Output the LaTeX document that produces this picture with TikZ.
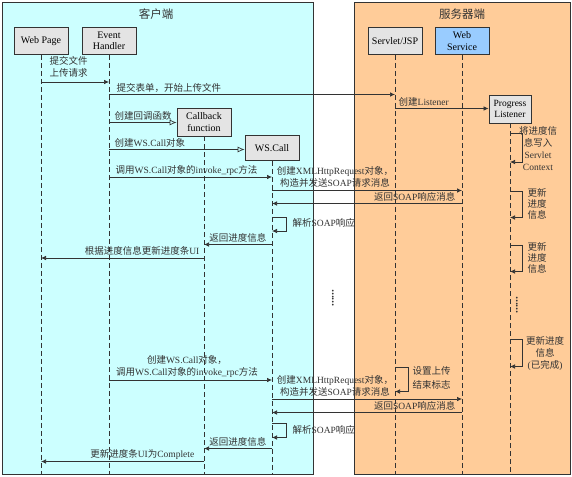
\documentclass[tikz,border=0pt]{standalone}
\usepackage{fontspec}
\setmainfont{Liberation Serif}
\newfontfamily\cjk{Noto Sans CJK SC}
\usetikzlibrary{arrows.meta}
\newcommand\zh[1]{{\cjk #1}}
\definecolor{clientbg}{HTML}{CCFFFF}
\definecolor{serverbg}{HTML}{FFCC99}
\definecolor{boxgray}{HTML}{E4E4E4}
\definecolor{wsblue}{HTML}{99CCFF}
\definecolor{ink}{HTML}{333333}
\begin{document}
\begin{tikzpicture}[x=1pt,y=-1pt,
 panel/.style={draw=ink, line width=0.8pt},
 obj/.style={draw=ink, fill=boxgray, line width=0.9pt, minimum width=54pt, minimum height=27pt, align=center, inner sep=1pt, font=\fontsize{10}{11.5}\selectfont},
 life/.style={draw=ink, line width=0.7pt, dash pattern=on 5pt off 3pt},
 msg/.style={draw=ink, line width=0.7pt, -{Latex[length=5pt,width=4.5pt]}},
 crt/.style={draw=ink, line width=0.7pt, -{Latex[open,length=7pt,width=6pt]}},
 lbl/.style={inner sep=0.5pt, text=ink, font=\fontsize{9.5}{12}\selectfont, align=center},
 ttl/.style={font=\fontsize{11.5}{13}\cjk, text=ink},
 dots/.style={inner sep=0pt, text=ink, font=\fontsize{11}{11}\bfseries, rotate=90},
]
\useasboundingbox (0,0) rectangle (572,476);
\fill[white] (0,0) rectangle (572,476);
\draw[panel, fill=clientbg] (2,2) rectangle (313,474);
\draw[panel, fill=serverbg] (354,2) rectangle (570,474);

\node[ttl] (tc) at (156,14) {客户端};
\node[ttl] (ts) at (462,14) {服务器端};

\node[obj] (wp) at (41,41) {Web Page};
\node[obj] (eh) at (109,41) {Event\\Handler};
\node[obj] (sv) at (395,41) {Servlet/JSP};
\node[obj, fill=wsblue] (ws) at (462,41) {Web\\Service};
\node[obj, minimum height=28pt] (cb) at (204,122) {Callback\\function};
\node[obj, minimum height=25pt] (wc) at (272,148) {WS.Call};
\node[obj, minimum width=42pt, minimum height=28pt, font=\fontsize{9.5}{11}\selectfont] (pl) at (510,109) {Progress\\Listener};

\foreach \n in {wp,eh,sv,ws,cb,wc,pl} \draw[life] (\n.south) -- (\n.south |- 0,474);

% 1
\draw[msg] (wp |- 0,82) -- (eh |- 0,82);
\node[lbl, anchor=west, align=left] (l1) at (49,67) {\zh{提交文件}\\\zh{上传请求}};
% 2
\draw[msg] (eh |- 0,94.5) -- (sv |- 0,94.5);
\node[lbl, anchor=west] (l2) at (116,88) {\zh{提交表单，开始上传文件}};
% 3
\draw[msg] (sv |- 0,108.5) -- (pl.west |- 0,108.5);
\node[lbl, anchor=west] (l3) at (398,102) {\zh{创建}Listener};
% 4
\draw[crt] (eh |- 0,122.5) -- (cb.west |- 0,122.5);
\node[lbl, anchor=west] (l4) at (114,116) {\zh{创建回调函数}};
% 5
\draw[crt] (eh |- 0,149.5) -- (wc.west |- 0,149.5);
\node[lbl, anchor=west] (l5) at (114,143) {\zh{创建}WS.Call\zh{对象}};
% 6
\draw[msg] (pl |- 0,133) -- ++(12,0) -- ++(0,29) -- (pl |- 0,162);
\node[lbl] (l6) at (538,149) {\zh{将进度信}\\\zh{息写入}\\Servlet\\Context};
% 7
\draw[msg] (eh |- 0,177) -- (wc |- 0,177);
\node[lbl, anchor=west] (l7) at (115,170) {\zh{调用}WS.Call\zh{对象的}invoke\_rpc\zh{方法}};
% 8
\draw[msg] (wc |- 0,190.5) -- (ws |- 0,190.5);
\node[lbl] (l8) at (335,177) {\zh{创建}XMLHttpRequest\zh{对象，}\\\zh{构造并发送}SOAP\zh{请求消息}};
% 9
\draw[msg] (ws |- 0,203.5) -- (wc |- 0,203.5);
\node[lbl, anchor=east] (l9) at (456,197) {\zh{返回}SOAP\zh{响应消息}};
% 10
\draw[msg] (wc |- 0,217) -- ++(14,0) -- ++(0,14) -- (wc |- 0,231);
\node[lbl, anchor=west] (l10) at (292,223) {\zh{解析}SOAP\zh{响应}};
% 11
\draw[msg] (wc |- 0,244.5) -- (cb |- 0,244.5);
\node[lbl, anchor=east] (l11) at (267,237.5) {\zh{返回进度信息}};
% 12
\draw[msg] (cb |- 0,258) -- (wp |- 0,258);
\node[lbl, anchor=east] (l12) at (200,251) {\zh{根据进度信息更新进度条}UI};
% 13
\draw[msg] (pl |- 0,191) -- ++(12,0) -- ++(0,26.5) -- (pl |- 0,217.5);
\node[lbl, align=center, font=\fontsize{9.5}{11}\selectfont] (l13) at (537,203.5) {\zh{更新}\\\zh{进度}\\\zh{信息}};
% 14
\draw[msg] (pl |- 0,245) -- ++(12,0) -- ++(0,26.5) -- (pl |- 0,271.5);
\node[lbl, align=center, font=\fontsize{9.5}{11}\selectfont] (l14) at (537,257.5) {\zh{更新}\\\zh{进度}\\\zh{信息}};
% dots
\node[dots] (d1) at (333,298) {......};
\node[dots] (d2) at (517,305) {......};
% 16
\draw[msg] (pl |- 0,339.5) -- ++(12,0) -- ++(0,27) -- (pl |- 0,366.5);
\node[lbl] (l16) at (545,353) {\zh{更新进度}\\\zh{信息}\\(\zh{已完成})};
% 17
\draw[msg] (eh |- 0,380) -- (wc |- 0,380);
\node[lbl] (l17) at (187,366.5) {\zh{创建}WS.Call\zh{对象，}\\\zh{调用}WS.Call\zh{对象的}invoke\_rpc\zh{方法}};
% 18
\draw[msg] (sv |- 0,367.5) -- ++(13,0) -- ++(0,24) -- (sv |- 0,391.5);
\node[lbl, anchor=west, align=left, font=\fontsize{9.5}{14}\selectfont] (l18) at (412,378) {\zh{设置上传}\\\zh{结束标志}};
% 19
\draw[msg] (wc |- 0,399) -- (ws |- 0,399);
\node[lbl] (l19) at (335,385.5) {\zh{创建}XMLHttpRequest\zh{对象，}\\\zh{构造并发送}SOAP\zh{请求消息}};
% 20
\draw[msg] (ws |- 0,412.5) -- (wc |- 0,412.5);
\node[lbl, anchor=east] (l20) at (456,406) {\zh{返回}SOAP\zh{响应消息}};
% 21
\draw[msg] (wc |- 0,423.5) -- ++(14,0) -- ++(0,14) -- (wc |- 0,437.5);
\node[lbl, anchor=west] (l21) at (292,430) {\zh{解析}SOAP\zh{响应}};
% 22
\draw[msg] (wc |- 0,448.5) -- (cb |- 0,448.5);
\node[lbl, anchor=east] (l22) at (267,441.5) {\zh{返回进度信息}};
% 23
\draw[msg] (cb |- 0,461.5) -- (wp |- 0,461.5);
\node[lbl, anchor=east] (l23) at (195,454.5) {\zh{更新进度条}UI\zh{为}Complete};
\end{tikzpicture}
\end{document}
